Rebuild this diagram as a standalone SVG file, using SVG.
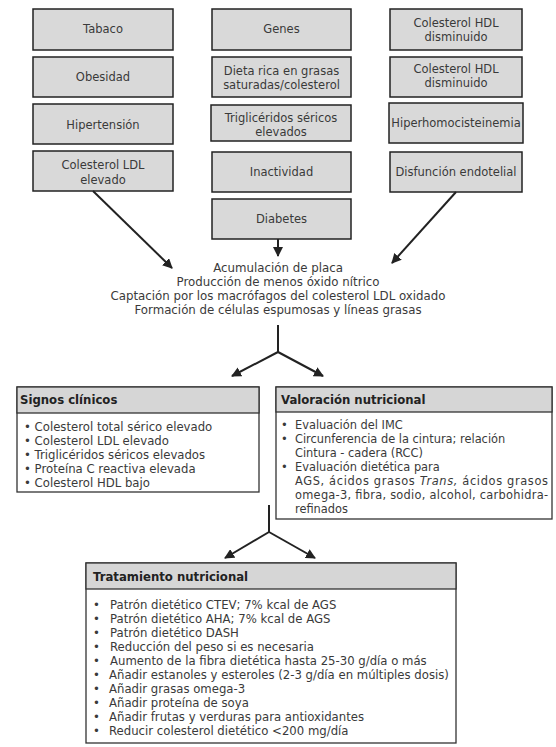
<svg xmlns="http://www.w3.org/2000/svg" width="556" height="747" viewBox="0 0 556 747">
<defs>
<style>
.box{fill:#d9d9d9;stroke:#222;stroke-width:1.5}
.pan{fill:#fff;stroke:#333;stroke-width:1.3}
.hdr{fill:#d6d6d6;stroke:#333;stroke-width:1.3}
text{font-family:"DejaVu Sans",Verdana,sans-serif;fill:#3a3a3a}
.t{font-size:11.5px;text-anchor:middle}
.c{font-size:11.8px;text-anchor:middle}
.h{font-size:11.7px;font-weight:bold;fill:#222}
.i{font-size:11.7px}
.v{font-size:11.4px}
.ln{stroke:#222;stroke-width:2;fill:none}
</style>
<marker id="ah" viewBox="0 0 10 10" refX="9" refY="5" markerWidth="5" markerHeight="5" orient="auto">
<path d="M0,0 L10,5 L0,10 z" fill="#222"/>
</marker>
</defs>
<rect width="556" height="747" fill="#fff"/>

<g id="tabaco"><rect class="box" x="33" y="9" width="140" height="41"/><text class="t" x="103" y="33">Tabaco</text></g>
<g id="obesidad"><rect class="box" x="33" y="57" width="140" height="40"/><text class="t" x="103" y="81">Obesidad</text></g>
<g id="hipertension"><rect class="box" x="33" y="104" width="140" height="40"/><text class="t" x="103" y="129">Hipertensión</text></g>
<g id="ldl"><rect class="box" x="33" y="151" width="140" height="40"/><text class="t" x="103" y="169">Colesterol LDL</text><text class="t" x="103" y="184">elevado</text></g>

<g id="genes"><rect class="box" x="212" y="9" width="139" height="41"/><text class="t" x="281.5" y="33">Genes</text></g>
<g id="dieta"><rect class="box" x="212" y="57" width="139" height="40"/><text class="t" x="281.5" y="75">Dieta rica en grasas</text><text class="t" x="281.5" y="89">saturadas/colesterol</text></g>
<g id="trigliceridos"><rect class="box" x="211" y="105" width="140" height="36"/><text class="t" x="281" y="122">Triglicéridos séricos</text><text class="t" x="281" y="136">elevados</text></g>
<g id="inactividad"><rect class="box" x="212" y="152" width="139" height="40"/><text class="t" x="281.5" y="176">Inactividad</text></g>
<g id="diabetes"><rect class="box" x="212" y="199" width="139" height="40"/><text class="t" x="281.5" y="223">Diabetes</text></g>

<g id="hdl1"><rect class="box" x="390" y="9" width="132" height="41"/><text class="t" x="456" y="27">Colesterol HDL</text><text class="t" x="456" y="41">disminuido</text></g>
<g id="hdl2"><rect class="box" x="390" y="57" width="132" height="40"/><text class="t" x="456" y="73">Colesterol HDL</text><text class="t" x="456" y="87">disminuido</text></g>
<g id="hiperhomo"><rect class="box" x="389" y="103" width="134" height="40"/><text class="t" x="456" y="127">Hiperhomocisteinemia</text></g>
<g id="disfuncion"><rect class="box" x="390" y="152" width="132" height="40"/><text class="t" x="456" y="176">Disfunción endotelial</text></g>

<g id="mecanismo">
<text class="c" x="278" y="272">Acumulación de placa</text>
<text class="c" x="278" y="286">Producción de menos óxido nítrico</text>
<text class="c" x="278" y="300">Captación por los macrófagos del colesterol LDL oxidado</text>
<text class="c" x="278" y="314">Formación de células espumosas y líneas grasas</text>
</g>

<g id="signos">
<rect class="pan" x="17" y="387" width="242" height="105"/>
<rect class="hdr" x="17" y="387" width="242" height="26"/>
<text class="h" x="20" y="404">Signos clínicos</text>
<text class="i" x="24" y="431">• Colesterol total sérico elevado</text>
<text class="i" x="24" y="445">• Colesterol LDL elevado</text>
<text class="i" x="24" y="459">• Triglicéridos séricos elevados</text>
<text class="i" x="24" y="473">• Proteína C reactiva elevada</text>
<text class="i" x="24" y="487">• Colesterol HDL bajo</text>
</g>

<g id="valoracion">
<rect class="pan" x="276" y="387" width="276" height="132"/>
<rect class="hdr" x="276" y="387" width="276" height="25"/>
<text class="h" x="281" y="404">Valoración nutricional</text>
<text class="v" x="281" y="429">•</text><text class="v" x="295" y="429">Evaluación del IMC</text>
<text class="v" x="281" y="443">•</text><text class="v" x="295" y="443">Circunferencia de la cintura; relación</text>
<text class="v" x="295" y="457">Cintura - cadera (RCC)</text>
<text class="v" x="281" y="471">•</text><text class="v" x="295" y="471">Evaluación dietética para</text>
<text class="v" x="295" y="485" textLength="253" lengthAdjust="spacing">AGS, ácidos grasos <tspan font-style="italic">Trans,</tspan> ácidos grasos</text>
<text class="v" x="295" y="499" textLength="253" lengthAdjust="spacing">omega-3, fibra, sodio, alcohol, carbohidra-</text>
<text class="v" x="295" y="513">refinados</text>
</g>

<g id="tratamiento">
<rect class="pan" x="86" y="563" width="370" height="180"/>
<rect class="hdr" x="86" y="563" width="370" height="26"/>
<text class="h" x="93" y="581">Tratamiento nutricional</text>
<text class="i" x="93" y="609">•</text><text class="i" x="110" y="609">Patrón dietético CTEV; 7% kcal de AGS</text>
<text class="i" x="93" y="623">•</text><text class="i" x="110" y="623">Patrón dietético AHA; 7% kcal de AGS</text>
<text class="i" x="93" y="637">•</text><text class="i" x="110" y="637">Patrón dietético DASH</text>
<text class="i" x="93" y="651">•</text><text class="i" x="110" y="651">Reducción del peso si es necesaria</text>
<text class="i" x="93" y="665">•</text><text class="i" x="110" y="665">Aumento de la fibra dietética hasta 25-30 g/día o más</text>
<text class="i" x="93" y="679">•</text><text class="i" x="109" y="679">Añadir estanoles y esteroles (2-3 g/día en múltiples dosis)</text>
<text class="i" x="93" y="693">•</text><text class="i" x="109" y="693">Añadir grasas omega-3</text>
<text class="i" x="93" y="707">•</text><text class="i" x="109" y="707">Añadir proteína de soya</text>
<text class="i" x="93" y="721">•</text><text class="i" x="109" y="721">Añadir frutas y verduras para antioxidantes</text>
<text class="i" x="93" y="735">•</text><text class="i" x="109" y="735">Reducir colesterol dietético &lt;200 mg/día</text>
</g>

<g id="connectors">
<line class="ln" x1="93" y1="191" x2="172" y2="268" marker-end="url(#ah)"/>
<line class="ln" x1="456" y1="192" x2="392" y2="263" marker-end="url(#ah)"/>
<line class="ln" x1="278" y1="239" x2="278" y2="256" marker-end="url(#ah)"/>
<polyline class="ln" points="278,325 278,352"/>
<line class="ln" x1="278" y1="352" x2="232" y2="376" marker-end="url(#ah)"/>
<line class="ln" x1="278" y1="352" x2="323" y2="376" marker-end="url(#ah)"/>
<polyline class="ln" points="269,505 269,532"/>
<line class="ln" x1="269" y1="532" x2="225" y2="558" marker-end="url(#ah)"/>
<line class="ln" x1="269" y1="532" x2="315" y2="558" marker-end="url(#ah)"/>
</g>
</svg>
